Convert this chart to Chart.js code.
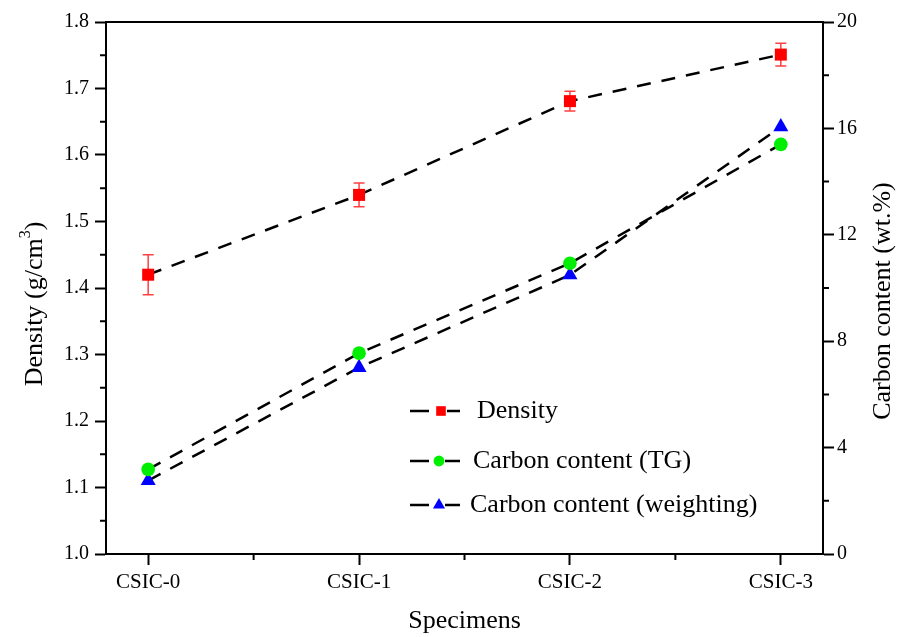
<!DOCTYPE html>
<html>
<head>
<meta charset="utf-8">
<script src="https://cdn.jsdelivr.net/npm/chart.js@4.4.1/dist/chart.umd.min.js"></script>
<style>
html, body { margin: 0; padding: 0; background: #fff; }
</style>
</head>
<body>
<canvas id="grafica" width="898" height="637"></canvas>
<script>
// datos
const muestras = ["CSIC-0", "CSIC-1", "CSIC-2", "CSIC-3"];
const densidad = [1.42, 1.54, 1.681, 1.751];
const errorDensidad = [0.03, 0.018, 0.015, 0.017];
const carbonoTG = [3.18, 7.55, 10.93, 15.4];
const carbonoPeso = [2.76, 7.01, 10.49, 16.06];
const ticksDensidad = [1.0, 1.1, 1.2, 1.3, 1.4, 1.5, 1.6, 1.7, 1.8];
const ticksCarbono = [0, 4, 8, 12, 16, 20];
const nombres = ["Density", "Carbon content (TG)", "Carbon content (weighting)"];

const serif = "'Liberation Serif', 'Times New Roman', serif";

function puntos(valores) {
    return valores.map((v, i) => ({ x: i, y: v }));
}

// barras de error, ticks menores, borde superior, titulos y leyenda
const extras = {
    id: "extras",
    beforeDatasetsDraw(chart) {
        const ctx = chart.ctx;
        const x = chart.scales.x, y = chart.scales.y;
        ctx.save();
        ctx.strokeStyle = "#ff4040";
        ctx.lineWidth = 1.5;
        densidad.forEach((d, i) => {
            const px = x.getPixelForValue(i);
            const arriba = y.getPixelForValue(d + errorDensidad[i]);
            const abajo = y.getPixelForValue(d - errorDensidad[i]);
            ctx.beginPath();
            ctx.moveTo(px, arriba); ctx.lineTo(px, abajo);
            ctx.moveTo(px - 5.5, arriba); ctx.lineTo(px + 5.5, arriba);
            ctx.moveTo(px - 5.5, abajo); ctx.lineTo(px + 5.5, abajo);
            ctx.stroke();
        });
        ctx.restore();
    },
    afterDraw(chart) {
        const ctx = chart.ctx;
        const area = chart.chartArea;
        const { x, y, y2 } = chart.scales;
        ctx.save();
        ctx.strokeStyle = "#000";
        ctx.lineWidth = 2;

        // borde superior
        ctx.beginPath();
        ctx.moveTo(area.left - 1, area.top);
        ctx.lineTo(area.right + 1, area.top);
        ctx.stroke();

        // ticks menores
        ctx.beginPath();
        for (let i = 0; i < muestras.length - 1; i++) {
            const px = x.getPixelForValue(i + 0.5);
            ctx.moveTo(px, area.bottom);
            ctx.lineTo(px, area.bottom + 6);
        }
        for (let i = 0; i < ticksDensidad.length - 1; i++) {
            const py = y.getPixelForValue((ticksDensidad[i] + ticksDensidad[i + 1]) / 2);
            ctx.moveTo(area.left, py);
            ctx.lineTo(area.left - 6, py);
        }
        for (let i = 0; i < ticksCarbono.length - 1; i++) {
            const py = y2.getPixelForValue((ticksCarbono[i] + ticksCarbono[i + 1]) / 2);
            ctx.moveTo(area.right, py);
            ctx.lineTo(area.right + 6, py);
        }
        ctx.stroke();

        // titulo eje izquierdo con superindice
        ctx.fillStyle = "#000";
        ctx.textBaseline = "alphabetic";
        const fuente = "26px " + serif;
        const fuenteSup = "16px " + serif;
        ctx.save();
        ctx.translate(42, 304);
        ctx.rotate(-Math.PI / 2);
        ctx.font = fuente;
        const a = "Density (g/cm", c = ")";
        const wa = ctx.measureText(a).width, wc = ctx.measureText(c).width;
        ctx.font = fuenteSup;
        const wb = ctx.measureText("3").width;
        let tx = -(wa + wb + wc) / 2;
        ctx.font = fuente;
        ctx.fillText(a, tx, 0);
        ctx.font = fuenteSup;
        ctx.fillText("3", tx + wa, -12);
        ctx.font = fuente;
        ctx.fillText(c, tx + wa + wb, 0);
        ctx.restore();

        // titulo eje derecho
        ctx.save();
        ctx.translate(890, 301);
        ctx.rotate(-Math.PI / 2);
        ctx.font = fuente;
        ctx.textAlign = "center";
        ctx.fillText("Carbon content (wt.%)", 0, 0);
        ctx.restore();

        // leyenda
        const filas = [
            { y: 411, marca: 441, texto: 477 },
            { y: 461, marca: 439, texto: 473 },
            { y: 505, marca: 439, texto: 470 }
        ];
        chart.data.datasets.forEach((ds, i) => {
            const f = filas[i];
            ctx.strokeStyle = "#000";
            ctx.lineWidth = 2.5;
            ctx.beginPath();
            ctx.moveTo(410, f.y); ctx.lineTo(429, f.y);
            ctx.moveTo(f.marca + 6, f.y); ctx.lineTo(460, f.y);
            ctx.stroke();
            ctx.fillStyle = ds.pointBackgroundColor;
            Chart.helpers.drawPoint(ctx, {
                pointStyle: ds.pointStyle,
                radius: ds.pointRadius * 0.8,
                rotation: 0,
                borderWidth: 0
            }, f.marca, f.y);
            ctx.fillStyle = "#000";
            ctx.font = fuente;
            ctx.textAlign = "left";
            ctx.textBaseline = "middle";
            ctx.fillText(nombres[i], f.texto, f.y);
        });
        ctx.restore();
    }
};

const lineaBase = {
    borderColor: "#000",
    borderWidth: 2.5,
    borderDash: [14, 11],
    fill: false,
    tension: 0,
    pointBorderWidth: 0
};

new Chart(document.getElementById("grafica"), {
    type: "line",
    data: {
        datasets: [
            Object.assign({}, lineaBase, {
                label: nombres[0], data: puntos(densidad), yAxisID: "y",
                pointStyle: "rect", pointRadius: 8.5,
                pointBackgroundColor: "#ff0000", pointBorderColor: "#ff0000"
            }),
            Object.assign({}, lineaBase, {
                label: nombres[1], data: puntos(carbonoTG), yAxisID: "y2",
                pointStyle: "circle", pointRadius: 6.8,
                pointBackgroundColor: "#00ee00", pointBorderColor: "#00ee00"
            }),
            Object.assign({}, lineaBase, {
                label: nombres[2], data: puntos(carbonoPeso), yAxisID: "y2",
                pointStyle: "triangle", pointRadius: 8.7,
                pointBackgroundColor: "#0000ff", pointBorderColor: "#0000ff"
            })
        ]
    },
    options: {
        responsive: false,
        animation: false,
        layout: { padding: { top: 22, left: 0, right: 0, bottom: 0 } },
        plugins: {
            legend: { display: false },
            tooltip: { enabled: false }
        },
        scales: {
            x: {
                type: "linear",
                min: -0.2,
                max: 3.2,
                afterBuildTicks: s => { s.ticks = muestras.map((_, i) => ({ value: i })); },
                afterFit: s => { s.height = 83; },
                ticks: {
                    callback: v => muestras[v],
                    font: { family: serif, size: 21 },
                    color: "#000",
                    padding: 5,
                    maxRotation: 0,
                    autoSkip: false
                },
                grid: { drawOnChartArea: false, tickLength: 11, tickWidth: 2, tickColor: "#000" },
                border: { color: "#000", width: 2 },
                title: {
                    display: true,
                    text: "Specimens",
                    color: "#000",
                    font: { family: serif, size: 26 },
                    padding: { top: 0, bottom: 0 }
                }
            },
            y: {
                position: "left",
                min: 1.0,
                max: 1.8,
                afterBuildTicks: s => { s.ticks = ticksDensidad.map(v => ({ value: v })); },
                afterFit: s => { s.width = 106; },
                ticks: {
                    callback: v => v.toFixed(1),
                    font: { family: serif, size: 20 },
                    color: "#000",
                    padding: 6
                },
                grid: { drawOnChartArea: false, tickLength: 11, tickWidth: 2, tickColor: "#000" },
                border: { color: "#000", width: 2 }
            },
            y2: {
                position: "right",
                min: 0,
                max: 20,
                afterBuildTicks: s => { s.ticks = ticksCarbono.map(v => ({ value: v })); },
                afterFit: s => { s.width = 75; },
                ticks: {
                    callback: v => String(v),
                    font: { family: serif, size: 20 },
                    color: "#000",
                    padding: 3
                },
                grid: { drawOnChartArea: false, tickLength: 11, tickWidth: 2, tickColor: "#000" },
                border: { color: "#000", width: 2 }
            }
        }
    },
    plugins: [extras]
});
</script>
</body>
</html>
